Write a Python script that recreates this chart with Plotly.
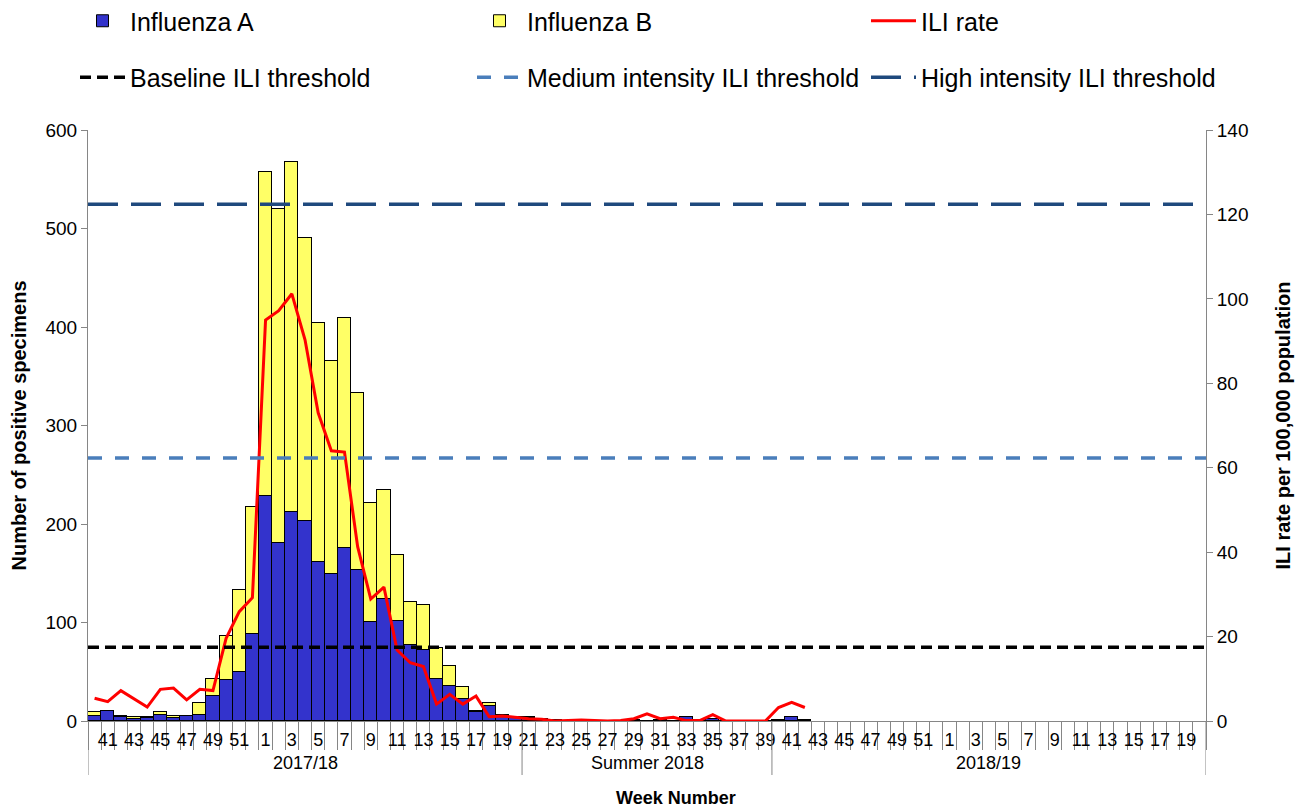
import plotly.graph_objects as go

# ---------------- data ----------------
weeks = ([str(w) for w in range(40, 53)] + [str(w) for w in range(1, 21)]
         + [str(w) for w in range(21, 40)]
         + [str(w) for w in range(40, 53)] + [str(w) for w in range(1, 21)])
seasons = ["2017/18", "Summer 2018", "2018/19"]
season_lengths = [33, 19, 33]

flu_a = ([5, 10, 4, 2, 3, 6, 3, 5, 6, 25, 42, 50, 88,
          228, 181, 212, 203, 161, 149, 176, 153, 101, 124, 102, 77, 72, 43, 36, 22, 9, 15, 5, 4,
          3, 2, 1, 0, 0, 0, 0, 0, 1, 0, 1, 0, 4, 1, 2, 0, 0, 0, 0,
          1, 4, 1] + [None] * 30)
flu_b = ([4, 0, 1, 2, 1, 3, 2, 0, 12, 18, 44, 83, 129,
          329, 339, 356, 287, 243, 216, 233, 180, 120, 111, 67, 44, 46, 31, 20, 13, 1, 3, 1, 0,
          1, 0, 0, 0, 0, 0, 0, 0, 0, 0, 0, 0, 0, 0, 0, 0, 0, 0, 0,
          0, 0, 0] + [None] * 30)
ili_rate = ([5.4, 4.6, 7.2, 5.2, 3.3, 7.5, 7.8, 5.0, 7.5, 7.2, 19.6, 25.9, 29.2,
             95.0, 97.2, 101.2, 90.3, 73.0, 64.0, 63.7, 41.3, 28.9, 31.7, 16.8, 13.8, 12.9,
             4.0, 6.3, 4.0, 5.9, 1.0, 1.2, 0.8,
             0.55, 0.4, 0.0, 0.1, 0.25, 0.1, 0.0, 0.1, 0.55, 1.7, 0.55, 0.9, 0.1, 0.1, 1.5,
             0.0, 0.0, 0.0, 0.0,
             3.2, 4.4, 3.2] + [None] * 30)

baseline_threshold = 17.5
medium_threshold = 62.3
high_threshold = 122.4

left_ticks = [0, 100, 200, 300, 400, 500, 600]
right_ticks = [0, 20, 40, 60, 80, 100, 120, 140]

# ---------------- figure ----------------
n = len(weeks)
idx = list(range(n))
FONT = "Liberation Sans, Arial, sans-serif"

fig = go.Figure()
fig.add_trace(go.Bar(x=idx, y=flu_a, name="Influenza A", legend="legend", legendgroup="a",
                     marker=dict(color="#3333CC", line=dict(color="#000000", width=1))))
fig.add_trace(go.Bar(x=idx, y=flu_b, name="Influenza B", legend="legend2", legendgroup="b",
                     marker=dict(color="#FFFF66", line=dict(color="#000000", width=1))))
fig.add_trace(go.Scatter(x=idx, y=ili_rate, name="ILI rate", yaxis="y2", mode="lines",
                         legend="legend3", legendgroup="c",
                         line=dict(color="#FF0000", width=3)))

span = [-0.5, n - 0.5]
fig.add_trace(go.Scatter(x=span, y=[baseline_threshold] * 2, yaxis="y2", mode="lines",
                         name="Baseline ILI threshold", legend="legend", legendgroup="d",
                         line=dict(color="#000000", width=3.5, dash="11px,6px")))
fig.add_trace(go.Scatter(x=span, y=[medium_threshold] * 2, yaxis="y2", mode="lines",
                         name="Medium intensity ILI threshold", legend="legend2", legendgroup="e",
                         line=dict(color="#4A7EBB", width=3.5, dash="14px,13px")))
fig.add_trace(go.Scatter(x=span, y=[high_threshold] * 2, yaxis="y2", mode="lines",
                         name="High intensity ILI threshold", legend="legend3", legendgroup="f",
                         line=dict(color="#1F497D", width=3.5, dash="30px,13px")))

label_idx = [i for i in idx if i % 2 == 1]
label_txt = [weeks[i] for i in label_idx]

# page has an 8px body margin; plot area should land at x 88..1206, y 130..721
PL, PT, PW, PH = 88, 130, 1118, 591


def legend_at(px_left):
    return dict(orientation="v", x=(px_left - PL) / PW, xanchor="left",
                y=(PT + PH - 49) / PH, yanchor="middle", itemwidth=45, tracegroupgap=21,
                font=dict(size=25, family=FONT), bgcolor="rgba(0,0,0,0)",
                traceorder="grouped")


fig.update_layout(
    width=1296, height=799,
    margin=dict(l=80, r=98, t=122, b=86, autoexpand=False),
    plot_bgcolor="white", paper_bgcolor="white",
    font=dict(family=FONT, color="#000000"),
    barmode="stack", bargap=0,
    xaxis=dict(range=span, tickmode="array", tickvals=label_idx, ticktext=label_txt,
               ticks="", showline=True, linecolor="#868686", linewidth=1, automargin=False,
               showgrid=False, zeroline=False, tickfont=dict(size=18),
               ticklabelstandoff=2,
               minor=dict(tickmode="linear", tick0=-0.5, dtick=1, ticks="outside",
                          ticklen=28, tickcolor="#868686", tickwidth=1, showgrid=False)),
    yaxis=dict(range=[0, 600], tickmode="array", tickvals=left_ticks, automargin=False,
               showline=True, linecolor="#868686", linewidth=1, ticks="outside",
               ticklen=6, tickcolor="#868686", showgrid=False, zeroline=False,
               tickfont=dict(size=19),
               title=dict(text="<b>Number of positive specimens</b>", font=dict(size=20),
                          standoff=16)),
    yaxis2=dict(range=[0, 140], overlaying="y", side="right", tickmode="array",
                tickvals=right_ticks, showline=True, linecolor="#868686", linewidth=1,
                ticks="outside", ticklen=6, tickcolor="#868686", showgrid=False,
                zeroline=False, tickfont=dict(size=19), automargin=False,
                title=dict(text="<b>ILI rate per 100,000 population</b>", font=dict(size=20),
                           standoff=28)),
    legend=legend_at(75),
    legend2=legend_at(472),
    legend3=legend_at(866),
    showlegend=True,
)

# season group separators and labels
shapes = []
annotations = []
start = 0
boundaries = [-0.5]
for name, length in zip(seasons, season_lengths):
    end = start + length
    boundaries.append(end - 0.5)
    annotations.append(dict(x=(start + end - 1) / 2, y=-(763 - 721) / PH, xref="x", yref="paper",
                            text=name, showarrow=False, font=dict(size=18),
                            xanchor="center", yanchor="middle"))
    start = end
for b in boundaries:
    shapes.append(dict(type="line", xref="x", yref="paper", x0=b, x1=b, y0=0,
                       y1=-(775 - 721) / PH, line=dict(color="#868686", width=1)))

annotations.append(dict(x=(676 - PL) / PW, y=-(798 - 721) / PH, xref="paper", yref="paper",
                        text="<b>Week Number</b>", showarrow=False, font=dict(size=18),
                        xanchor="center", yanchor="middle"))

fig.update_layout(shapes=shapes, annotations=annotations)

fig.write_html("out.html")
